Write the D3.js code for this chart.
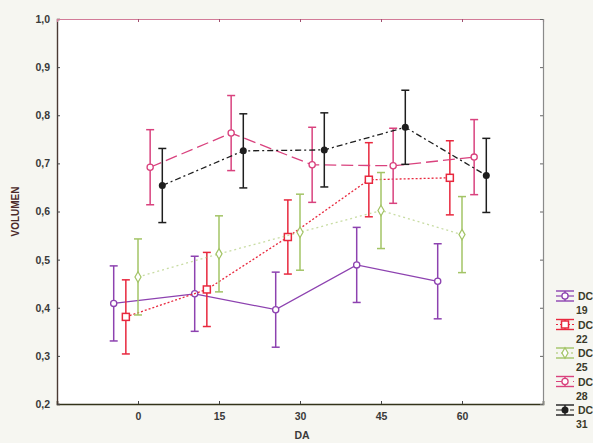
<!DOCTYPE html>
<html>
<head>
<meta charset="utf-8">
<script src="https://cdn.jsdelivr.net/npm/d3@7"></script>
<style>
  body { margin: 0; background: #f6f6f1; }
  svg { display: block; font-family: "Liberation Sans", Arial, sans-serif; }
</style>
</head>
<body>
<svg id="chart" width="593" height="443"></svg>
<script>
// days on the x axis
var days = [0, 15, 30, 45, 60];
var series_names = ['DC 19', 'DC 22', 'DC 25', 'DC 28', 'DC 31'];

// means, one list per series
var dc19 = [0.409, 0.429, 0.396, 0.489, 0.455];
var dc22 = [0.381, 0.438, 0.547, 0.666, 0.670];
var dc25 = [0.464, 0.512, 0.557, 0.602, 0.552];
var dc28 = [0.692, 0.763, 0.697, 0.695, 0.713];
var dc31 = [0.654, 0.726, 0.728, 0.775, 0.675];
// half height of the error bars
var errs = [0.078, 0.077, 0.079, 0.078, 0.077];
// horizontal shift per series, in days
var shifts = [-4.5, -2.25, 0, 2.25, 4.5];

var y_ticks = [0.2, 0.3, 0.4, 0.5, 0.6, 0.7, 0.8, 0.9, 1.0];

var colors = ['#8d42b0', '#e8283e', '#a3c466', '#d9427e', '#1e1e1e'];
var dashes = [null, '2,2', '2,3', '12,5', '6,3,2,3'];
var line_opacity = [1, 1, 0.6, 1, 1];
var shapes = ['circle', 'square', 'diamond', 'circle', 'dot'];

var means = [dc19, dc22, dc25, dc28, dc31];

var svg = d3.select('#chart');
// note: 'top' is taken by window.top, so use m_ names
var m_left = 57, m_right = 543, m_top = 19, m_bottom = 404;

var x = d3.scaleLinear().domain([-15, 75]).range([m_left, m_right]);
var y = d3.scaleLinear().domain([0.2, 1.0]).range([m_bottom, m_top]);

var fmt = function(d) { return d3.format('.1f')(d).replace('.', ','); };

// plot area
svg.append('rect')
    .attr('x', m_left).attr('y', m_top)
    .attr('width', m_right - m_left).attr('height', m_bottom - m_top)
    .attr('fill', '#ffffff');

// axes with inward ticks
var gx = svg.append('g').attr('transform', 'translate(0,' + m_bottom + ')')
    .call(d3.axisBottom(x).tickValues(days).tickSize(-3).tickPadding(9));
var gy = svg.append('g').attr('transform', 'translate(' + m_left + ',0)')
    .call(d3.axisLeft(y).tickValues(y_ticks).tickFormat(fmt).tickSize(-3).tickPadding(7));
var gt = svg.append('g').attr('transform', 'translate(0,' + m_top + ')')
    .call(d3.axisTop(x).tickValues(days).tickSize(-3).tickFormat(''));
var gr = svg.append('g').attr('transform', 'translate(' + m_right + ',0)')
    .call(d3.axisRight(y).tickValues(y_ticks).tickSize(-3).tickFormat(''));

[gx, gy, gt, gr].forEach(function(g) {
    g.selectAll('text').attr('fill', '#3a3a3a').style('font-size', '10.5px').style('font-weight', 'bold');
});
gx.select('.domain').attr('stroke', '#33331a').attr('stroke-width', 1.6);
gy.select('.domain').attr('stroke', '#4a3a34').attr('stroke-width', 1.4);
gt.select('.domain').attr('stroke', '#d27b98').attr('stroke-width', 1.2);
gr.select('.domain').attr('stroke', '#8a8a8a').attr('stroke-width', 1.2);
gx.selectAll('.tick line').attr('stroke', '#444');
gy.selectAll('.tick line').attr('stroke', '#444');
gt.selectAll('.tick line').attr('stroke', '#a05070');
gr.selectAll('.tick line').attr('stroke', '#666');

// axis titles
svg.append('text')
    .attr('transform', 'translate(19,' + ((m_top + m_bottom) / 2) + ') rotate(-90)')
    .attr('text-anchor', 'middle')
    .attr('fill', '#4a2a2a')
    .style('font-size', '10px').style('font-weight', 'bold')
    .text('VOLUMEN');
svg.append('text')
    .attr('x', 302).attr('y', 439)
    .attr('text-anchor', 'middle')
    .attr('fill', '#3a3a3a')
    .style('font-size', '10.5px').style('font-weight', 'bold')
    .text('DA');

function draw_marker(g, shape, cx, cy, color) {
    if (shape == 'square')
        g.append('rect').attr('x', cx - 3.5).attr('y', cy - 3.5).attr('width', 7).attr('height', 7)
            .attr('fill', '#fff').attr('stroke', color).attr('stroke-width', 1.5);
    else if (shape == 'diamond')
        g.append('path').attr('d', d3.symbol(d3.symbolDiamond, 32)()).attr('transform', 'translate(' + cx + ',' + cy + ')')
            .attr('fill', '#fff').attr('stroke', color).attr('stroke-width', 1.2);
    else if (shape == 'dot')
        g.append('circle').attr('cx', cx).attr('cy', cy).attr('r', 3.5).attr('fill', color);
    else
        g.append('circle').attr('cx', cx).attr('cy', cy).attr('r', 3.1)
            .attr('fill', '#fff').attr('stroke', color).attr('stroke-width', 1.3);
}

var cap = 4;
means.forEach(function(vals, i) {
    var g = svg.append('g');
    var pts = vals.map(function(v, j) { return { d: days[j] + shifts[i], v: v, e: errs[i] }; });

    g.append('path')
        .datum(pts)
        .attr('fill', 'none')
        .attr('stroke', colors[i])
        .attr('stroke-opacity', line_opacity[i])
        .attr('stroke-width', 1.3)
        .attr('stroke-dasharray', dashes[i])
        .attr('d', d3.line().x(function(p) { return x(p.d); }).y(function(p) { return y(p.v); }));

    pts.forEach(function(p) {
        var px = x(p.d);
        g.append('line').attr('x1', px).attr('x2', px).attr('y1', y(p.v - p.e)).attr('y2', y(p.v + p.e))
            .attr('stroke', colors[i]).attr('stroke-width', 1.5);
        [p.v - p.e, p.v + p.e].forEach(function(w) {
            g.append('line').attr('x1', px - cap).attr('x2', px + cap).attr('y1', y(w)).attr('y2', y(w))
                .attr('stroke', colors[i]).attr('stroke-width', 1.5);
        });
        draw_marker(g, shapes[i], px, y(p.v), colors[i]);
    });
});

// legend
var legend = svg.append('g');
series_names.forEach(function(name, i) {
    var ly = 296 + i * 28.5;
    var lg = legend.append('g');
    var cx = 565;
    lg.append('line').attr('x1', cx).attr('x2', cx).attr('y1', ly - 5).attr('y2', ly + 5)
        .attr('stroke', colors[i]).attr('stroke-width', 1.4);
    [ly - 5, ly + 5].forEach(function(w) {
        lg.append('line').attr('x1', cx - 9).attr('x2', cx + 9).attr('y1', w).attr('y2', w)
            .attr('stroke', colors[i]).attr('stroke-width', 1.4);
    });
    lg.append('line').attr('x1', cx - 9).attr('x2', cx + 9).attr('y1', ly).attr('y2', ly)
        .attr('stroke', colors[i]).attr('stroke-width', 1.2).attr('stroke-dasharray', dashes[i]);
    draw_marker(lg, shapes[i], cx, ly, colors[i]);
    var parts = name.split(' ');
    lg.append('text').attr('x', 578).attr('y', ly + 4)
        .attr('fill', '#3a3a2a').style('font-size', '10.5px').style('font-weight', 'bold')
        .text(parts[0]);
    lg.append('text').attr('x', 576).attr('y', ly + 18)
        .attr('fill', '#3a3a2a').style('font-size', '10.5px').style('font-weight', 'bold')
        .text(parts[1]);
});
</script>
</body>
</html>
